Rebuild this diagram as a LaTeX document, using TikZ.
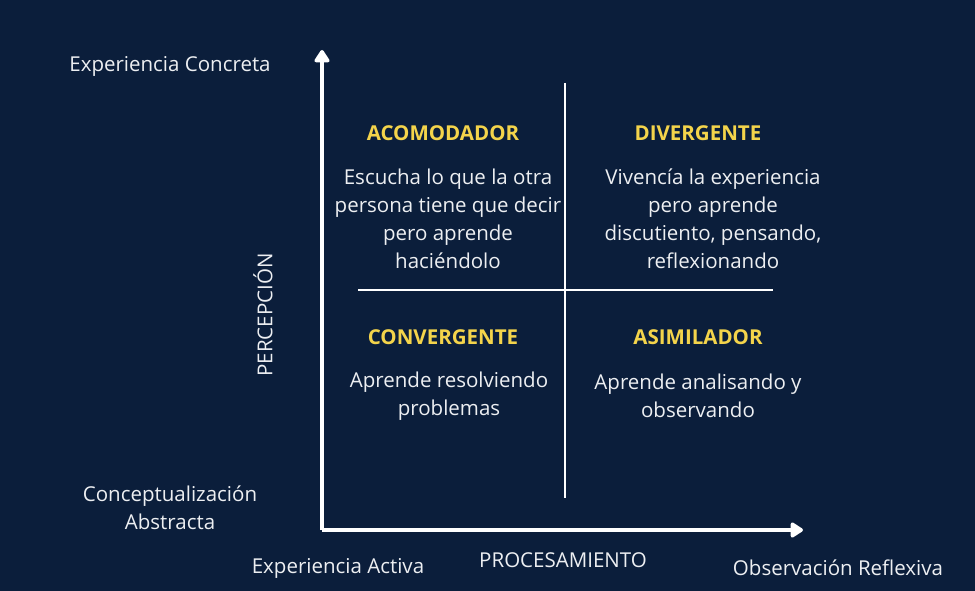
\documentclass[tikz,border=0pt]{standalone}
\usepackage{fontspec}
\setmainfont{Open Sans}
\usetikzlibrary{arrows.meta}
\definecolor{bg}{HTML}{0B1E3B}
\definecolor{ylw}{HTML}{F4D44B}
\definecolor{txt}{HTML}{EDEFF2}
\tikzset{
  body/.style={text=txt,font=\fontsize{20.5}{28}\selectfont,align=center,inner sep=0pt},
  head/.style={text=ylw,font=\fontsize{20.5}{22}\selectfont\bfseries,inner sep=0pt},
  axlab/.style={text=txt,font=\fontsize{20.5}{28}\selectfont,align=center,inner sep=0pt},
  axis/.style={draw=white,line width=3.5pt,-{Triangle[length=14pt,width=17pt,round]}},
  divider/.style={draw=white,line width=1.8pt},
}
\begin{document}
\begin{tikzpicture}[x=1pt,y=-1pt]
\fill[bg] (0,0) rectangle (975,591);
\useasboundingbox (0,0) rectangle (975,591);
\coordinate (O) at (322,530);
\coordinate (Ytop) at (322,50);
\coordinate (Xend) at (803,530);
\coordinate (Vt) at (565,83);
\coordinate (Vb) at (565,498);
\coordinate (Hl) at (358,290);
\coordinate (Hr) at (773,290);
\draw[divider] (Vt) -- (Vb);
\draw[divider] (Hl) -- (Hr);
\draw[axis] (O) -- (Ytop);
\draw[axis] (O) -- (Xend);
\node[axlab] (ec) at (170,66) {Experiencia Concreta};
\node[axlab] (ca) at (170,508) {Conceptualización\\Abstracta};
\node[axlab] (ea) at (338,568) {Experiencia Activa};
\node[axlab] (pr) at (563,560) {PROCESAMIENTO};
\node[axlab] (or) at (838,568) {Observación Reflexiva};
\node[axlab,rotate=90] (pe) at (263,315) {PERCEPCIÓN};
\node[head] (acom) at (443,133) {ACOMODADOR};
\node[head] (dive) at (698,133) {DIVERGENTE};
\node[head] (conv) at (443,337) {CONVERGENTE};
\node[head] (asim) at (698,337) {ASIMILADOR};
\node[body] (acomt) at (448,219) {Escucha lo que la otra\\persona tiene que decir\\pero aprende\\haciéndolo};
\node[body] (divet) at (713,219) {Vivencía la experiencia\\pero aprende\\discutiento, pensando,\\reflexionando};
\node[body] (convt) at (449,396) {Aprende resolviendo\\problemas};
\node[body] (asimt) at (698,396) {Aprende analisando y\\observando};
\end{tikzpicture}
\end{document}
